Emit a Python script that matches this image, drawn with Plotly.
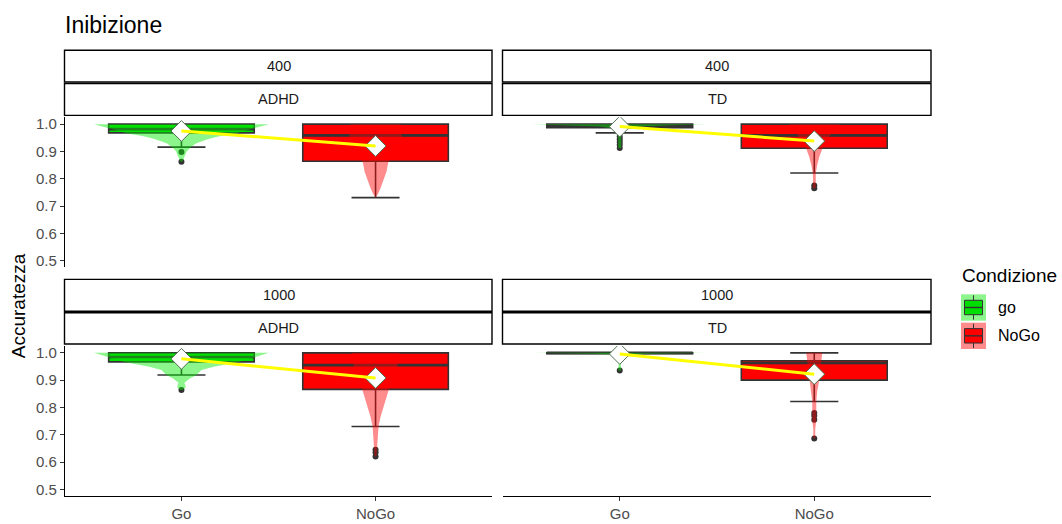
import plotly.graph_objects as go

# ---------------------------------------------------------------- data
categories = ["Go", "NoGo"]
legend_labels = ["go", "NoGo"]

# box statistics per facet, ordered [Go, NoGo]
adhd400_q1 = [0.968, 0.864]
adhd400_med = [0.982, 0.959]
adhd400_q3 = [1.0, 1.0]
adhd400_lo = [0.916, 0.731]
adhd400_hi = [1.0, 1.0]
adhd400_mean = [0.975, 0.920]
adhd400_out_go = [0.898, 0.862]
adhd400_out_nogo = []

td400_q1 = [0.987, 0.912]
td400_med = [0.993, 0.959]
td400_q3 = [1.0, 1.0]
td400_lo = [0.968, 0.821]
td400_hi = [1.0, 1.0]
td400_mean = [0.991, 0.938]
td400_out_go = [0.955, 0.945, 0.935, 0.925, 0.913]
td400_out_nogo = [0.775, 0.765]

adhd1000_q1 = [0.967, 0.866]
adhd1000_med = [0.985, 0.955]
adhd1000_q3 = [1.0, 1.0]
adhd1000_lo = [0.919, 0.730]
adhd1000_hi = [1.0, 1.0]
adhd1000_mean = [0.978, 0.908]
adhd1000_out_go = [0.864]
adhd1000_out_nogo = [0.645, 0.635, 0.620]

td1000_q1 = [0.997, 0.900]
td1000_med = [1.0, 0.963]
td1000_q3 = [1.0, 0.971]
td1000_lo = [0.997, 0.822]
td1000_hi = [1.0, 1.0]
td1000_mean = [0.996, 0.922]
td1000_out_go = [0.935]
td1000_out_nogo = [0.780, 0.770, 0.755, 0.686]

# violin density profiles (accuracy level, relative density)
adhd400_go_vy = [0.862, 0.875, 0.89, 0.90, 0.916, 0.93, 0.945, 0.955, 0.967, 0.98, 0.99, 1.0]
adhd400_go_vd = [0.01, 0.03, 0.05, 0.06, 0.11, 0.17, 0.30, 0.42, 0.63, 0.78, 0.90, 1.0]
adhd400_nogo_vy = [0.731, 0.745, 0.765, 0.795, 0.827, 0.858, 0.90, 0.955, 1.0]
adhd400_nogo_vd = [0.0, 0.029, 0.057, 0.092, 0.126, 0.144, 0.207, 0.30, 0.287]

td400_go_vy = [0.913, 0.93, 0.95, 0.965, 0.975, 0.985, 0.991, 0.996, 1.0]
td400_go_vd = [0.017, 0.017, 0.017, 0.029, 0.04, 0.092, 0.23, 0.575, 1.0]
td400_nogo_vy = [0.765, 0.78, 0.80, 0.821, 0.85, 0.88, 0.91, 0.94, 0.97, 1.0]
td400_nogo_vd = [0.017, 0.017, 0.014, 0.017, 0.034, 0.057, 0.092, 0.138, 0.207, 0.287]

adhd1000_go_vy = [0.864, 0.872, 0.88, 0.89, 0.905, 0.919, 0.937, 0.949, 0.967, 0.98, 0.99, 1.0]
adhd1000_go_vd = [0.011, 0.046, 0.046, 0.034, 0.092, 0.172, 0.23, 0.368, 0.667, 0.805, 0.897, 1.0]
adhd1000_nogo_vy = [0.62, 0.65, 0.69, 0.73, 0.765, 0.797, 0.83, 0.86, 0.90, 0.955, 1.0]
adhd1000_nogo_vd = [0.011, 0.017, 0.023, 0.034, 0.057, 0.086, 0.115, 0.144, 0.184, 0.253, 0.276]

td1000_go_vy = [0.935, 0.95, 0.97, 0.985, 0.993, 0.997, 1.0]
td1000_go_vd = [0.017, 0.011, 0.011, 0.017, 0.069, 0.287, 1.0]
td1000_nogo_vy = [0.686, 0.72, 0.755, 0.78, 0.82, 0.86, 0.90, 0.94, 0.97, 1.0]
td1000_nogo_vd = [0.011, 0.011, 0.023, 0.023, 0.023, 0.034, 0.057, 0.069, 0.08, 0.092]

y_ticks = [0.5, 0.6, 0.7, 0.8, 0.9, 1.0]

# ---------------------------------------------------------------- styling
W, H = 1062, 524
FONT = "Liberation Sans, Arial, sans-serif"
BOX_FILL = ["#00DD00", "#FF0000"]
VIOLIN_FILL = ["rgba(0,235,0,0.45)", "rgba(255,0,0,0.45)"]
EDGE = "#333333"
BOX_WIDTH = 0.75
VIOLIN_HALF = 0.45
X_POS = [1, 2]


def fx(px):
    return px / W


def fy(py):
    return 1 - py / H


panels = [
    dict(isi="400", group="ADHD", q1=adhd400_q1, med=adhd400_med, q3=adhd400_q3,
         lo=adhd400_lo, hi=adhd400_hi, mean=adhd400_mean,
         out=[adhd400_out_go, adhd400_out_nogo],
         vy=[adhd400_go_vy, adhd400_nogo_vy], vd=[adhd400_go_vd, adhd400_nogo_vd],
         px_x=(65, 492), px_y=(116, 267), strip_y=(48.5, 80.5, 82, 114), left=True, bottom=False),
    dict(isi="400", group="TD", q1=td400_q1, med=td400_med, q3=td400_q3,
         lo=td400_lo, hi=td400_hi, mean=td400_mean,
         out=[td400_out_go, td400_out_nogo],
         vy=[td400_go_vy, td400_nogo_vy], vd=[td400_go_vd, td400_nogo_vd],
         px_x=(503, 931), px_y=(116, 267), strip_y=(48.5, 80.5, 82, 114), left=False, bottom=False),
    dict(isi="1000", group="ADHD", q1=adhd1000_q1, med=adhd1000_med, q3=adhd1000_q3,
         lo=adhd1000_lo, hi=adhd1000_hi, mean=adhd1000_mean,
         out=[adhd1000_out_go, adhd1000_out_nogo],
         vy=[adhd1000_go_vy, adhd1000_nogo_vy], vd=[adhd1000_go_vd, adhd1000_nogo_vd],
         px_x=(65, 492), px_y=(346, 497), strip_y=(279, 311, 312.5, 344), left=True, bottom=True),
    dict(isi="1000", group="TD", q1=td1000_q1, med=td1000_med, q3=td1000_q3,
         lo=td1000_lo, hi=td1000_hi, mean=td1000_mean,
         out=[td1000_out_go, td1000_out_nogo],
         vy=[td1000_go_vy, td1000_nogo_vy], vd=[td1000_go_vd, td1000_nogo_vd],
         px_x=(503, 931), px_y=(346, 497), strip_y=(279, 311, 312.5, 344), left=False, bottom=True),
]

fig = go.Figure()
layout = {}
shapes = []
annotations = []

for n, p in enumerate(panels, start=1):
    xa = "x" if n == 1 else f"x{n}"
    ya = "y" if n == 1 else f"y{n}"
    x0, x1 = p["px_x"]
    y0, y1 = p["px_y"]

    layout["xaxis" if n == 1 else f"xaxis{n}"] = dict(
        domain=[fx(x0), fx(x1)], range=[0.4, 2.6], anchor=ya,
        tickvals=X_POS, ticktext=categories, showgrid=False, zeroline=False,
        showline=p["bottom"], linecolor="black", linewidth=1.2,
        ticks="outside" if p["bottom"] else "", ticklen=4, tickcolor="#333333", tickwidth=1.2,
        showticklabels=p["bottom"], tickfont=dict(family=FONT, size=15, color="#4D4D4D"),
        fixedrange=True,
    )
    layout["yaxis" if n == 1 else f"yaxis{n}"] = dict(
        domain=[fy(y1), fy(y0)], range=[0.475, 1.025], anchor=xa,
        tickvals=y_ticks, tickformat=".1f", showgrid=False, zeroline=False,
        showline=p["left"], linecolor="black", linewidth=1.2,
        ticks="outside" if p["left"] else "", ticklen=4, tickcolor="#333333", tickwidth=1.2,
        showticklabels=p["left"], tickfont=dict(family=FONT, size=15, color="#4D4D4D"),
        fixedrange=True,
    )

    # boxes
    for k in range(2):
        fig.add_trace(go.Box(
            x=[X_POS[k]], q1=[p["q1"][k]], median=[p["med"][k]], q3=[p["q3"][k]],
            lowerfence=[p["lo"][k]], upperfence=[p["hi"][k]],
            width=BOX_WIDTH, whiskerwidth=0.33, fillcolor=BOX_FILL[k],
            line=dict(color=EDGE, width=1.6), boxpoints=False,
            xaxis=xa, yaxis=ya, showlegend=False, hoverinfo="skip",
        ))
        # thicker median bar
        fig.add_trace(go.Scatter(
            x=[X_POS[k] - BOX_WIDTH / 2, X_POS[k] + BOX_WIDTH / 2],
            y=[p["med"][k], p["med"][k]], mode="lines",
            line=dict(color=EDGE, width=2.6), xaxis=xa, yaxis=ya,
            showlegend=False, hoverinfo="skip",
        ))
        # outliers
        if p["out"][k]:
            fig.add_trace(go.Scatter(
                x=[X_POS[k]] * len(p["out"][k]), y=p["out"][k], mode="markers",
                marker=dict(color=EDGE, size=6), xaxis=xa, yaxis=ya,
                showlegend=False, hoverinfo="skip",
            ))

    # violins
    for k in range(2):
        ys = p["vy"][k]
        hw = [d * VIOLIN_HALF for d in p["vd"][k]]
        vx = [X_POS[k] + h for h in hw] + [X_POS[k] - h for h in reversed(hw)]
        vyy = list(ys) + list(reversed(ys))
        fig.add_trace(go.Scatter(
            x=vx + [vx[0]], y=vyy + [vyy[0]], mode="lines", fill="toself",
            fillcolor=VIOLIN_FILL[k], line=dict(width=0, color="rgba(0,0,0,0)"),
            xaxis=xa, yaxis=ya, showlegend=False, hoverinfo="skip",
        ))

    # means
    fig.add_trace(go.Scatter(
        x=X_POS, y=p["mean"], mode="markers",
        marker=dict(symbol="diamond", size=16, color="white",
                    line=dict(color="#4F6F4F", width=1)),
        xaxis=xa, yaxis=ya, showlegend=False, hoverinfo="skip",
    ))
    fig.add_trace(go.Scatter(
        x=X_POS, y=p["mean"], mode="lines",
        line=dict(color="#FFFF00", width=3), xaxis=xa, yaxis=ya,
        showlegend=False, hoverinfo="skip",
    ))

    # facet strips
    s0, s1, s2, s3 = p["strip_y"]
    for (ta, tb, label) in [(s0, s1, p["isi"]), (s2, s3, p["group"])]:
        shapes.append(dict(type="rect", xref="paper", yref="paper",
                           x0=fx(x0 - 0.5), x1=fx(x1), y0=fy(tb), y1=fy(ta),
                           fillcolor="white", line=dict(color="black", width=1.4)))
        annotations.append(dict(text=label, xref="paper", yref="paper",
                                x=fx((x0 + x1) / 2), y=fy((ta + tb) / 2),
                                xanchor="center", yanchor="middle", showarrow=False,
                                font=dict(family=FONT, size=14.5, color="#1A1A1A")))

# title and axis title
annotations.append(dict(text="Inibizione", xref="paper", yref="paper",
                        x=fx(63), y=fy(23), xanchor="left", yanchor="middle",
                        showarrow=False, font=dict(family=FONT, size=23, color="black")))
annotations.append(dict(text="Accuratezza", xref="paper", yref="paper",
                        x=fx(18), y=fy(306), xanchor="center", yanchor="middle",
                        textangle=-90, showarrow=False,
                        font=dict(family=FONT, size=19, color="black")))

# legend
annotations.append(dict(text="Condizione", xref="paper", yref="paper",
                        x=fx(960), y=fy(275), xanchor="left", yanchor="middle",
                        showarrow=False, font=dict(family=FONT, size=19, color="black")))
for k, (ky0, ky1) in enumerate([(294, 320.5), (322.5, 349)]):
    cx = 973.5
    shapes.append(dict(type="rect", xref="paper", yref="paper",
                       x0=fx(961), x1=fx(986), y0=fy(ky1), y1=fy(ky0),
                       fillcolor=VIOLIN_FILL[k], line=dict(width=0)))
    shapes.append(dict(type="line", xref="paper", yref="paper",
                       x0=fx(cx), x1=fx(cx), y0=fy(ky1 - 1), y1=fy(ky0 + 1),
                       line=dict(color=EDGE, width=1)))
    shapes.append(dict(type="rect", xref="paper", yref="paper",
                       x0=fx(964.5), x1=fx(982.5), y0=fy(ky1 - 6), y1=fy(ky0 + 6),
                       fillcolor=BOX_FILL[k], line=dict(color=EDGE, width=1)))
    shapes.append(dict(type="line", xref="paper", yref="paper",
                       x0=fx(964.5), x1=fx(982.5), y0=fy((ky0 + ky1) / 2), y1=fy((ky0 + ky1) / 2),
                       line=dict(color=EDGE, width=1.4)))
    annotations.append(dict(text=legend_labels[k], xref="paper", yref="paper",
                            x=fx(996), y=fy((ky0 + ky1) / 2), xanchor="left", yanchor="middle",
                            showarrow=False, font=dict(family=FONT, size=16, color="black")))

fig.update_layout(
    **layout,
    width=W, height=H,
    margin=dict(l=0, r=0, t=0, b=0),
    paper_bgcolor="white", plot_bgcolor="white",
    shapes=shapes, annotations=annotations,
    showlegend=False, boxmode="overlay",
)

fig.write_html("out.html")
